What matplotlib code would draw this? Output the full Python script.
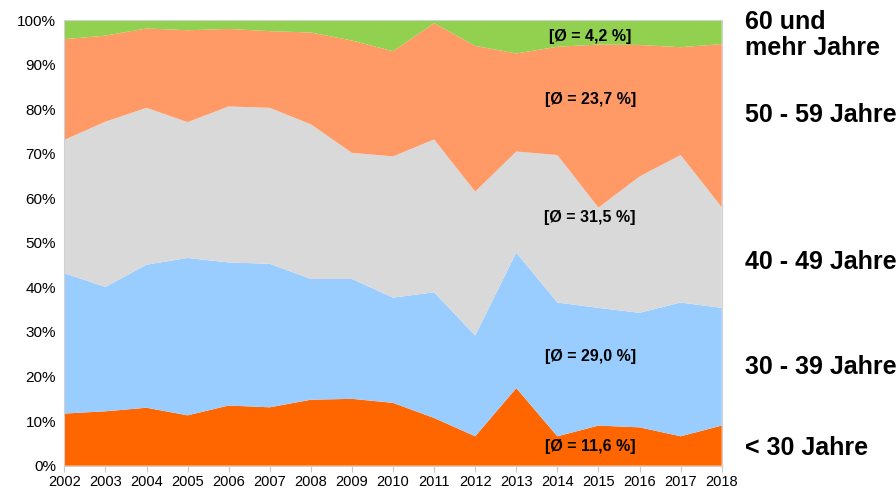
import matplotlib
matplotlib.use("Agg")
import matplotlib.pyplot as plt
import numpy as np

plt.rcParams['font.family'] = ['Liberation Sans', 'DejaVu Sans']

years = list(range(2002, 2019))
# shares in percent per age group
under30 = [11.7, 12.2, 13.0, 11.3, 13.5, 13.1, 14.8, 15.0, 14.1, 10.7, 6.6, 17.4, 6.6, 9.0, 8.6, 6.6, 9.0]
cum_30_39 = [43.2, 40.1, 45.1, 46.6, 45.6, 45.3, 41.9, 41.9, 37.7, 38.9, 29.2, 47.8, 36.6, 35.4, 34.3, 36.6, 35.4]
cum_40_49 = [73.1, 77.2, 80.3, 77.1, 80.6, 80.3, 76.6, 70.2, 69.4, 73.2, 61.5, 70.5, 69.7, 57.9, 64.9, 69.7, 58.0]
cum_50_59 = [95.7, 96.5, 98.1, 97.7, 98.0, 97.5, 97.2, 95.4, 93.0, 99.3, 94.2, 92.5, 94.0, 94.5, 94.4, 93.9, 94.6]

s30 = list(np.array(under30))
s3039 = list(np.array(cum_30_39) - np.array(under30))
s4049 = list(np.array(cum_40_49) - np.array(cum_30_39))
s5059 = list(np.array(cum_50_59) - np.array(cum_40_49))
s60 = list(100 - np.array(cum_50_59))

colors = ['#FF6600', '#99CCFF', '#D9D9D9', '#FF9966', '#92D050']
group_labels = ['< 30 Jahre', '30 - 39 Jahre', '40 - 49 Jahre', '50 - 59 Jahre', '60 und\nmehr Jahre']
avg_labels = ['[Ø = 11,6 %]', '[Ø = 29,0 %]', '[Ø = 31,5 %]', '[Ø = 23,7 %]', '[Ø = 4,2 %]']
avg_y = [4.3, 24.5, 55.6, 82.1, 96.3]

fig = plt.figure(figsize=(8.96, 4.93), dpi=100)
ax = fig.add_axes([0.0718, 0.0554, 0.8055 - 0.0718, 0.9594 - 0.0554])
ax.stackplot(years, s30, s3039, s4049, s5059, s60, colors=colors, linewidth=0)

ax.set_xlim(2002, 2018)
ax.set_ylim(0, 100)
ax.set_xticks(years)
ax.set_xticklabels([str(y) for y in years], fontsize=10.5)
ax.set_yticks(range(0, 101, 10))
ax.set_yticklabels([f'{v}%' for v in range(0, 101, 10)], fontsize=11)
for sp in ax.spines.values():
    sp.set_color('#D0D0D0')
    sp.set_linewidth(0.8)
ax.tick_params(axis='x', length=4, color='#C8C8C8', pad=3)
ax.tick_params(axis='y', length=0, pad=6)

for txt, yv in zip(avg_labels, avg_y):
    ax.text(2014.8, yv, txt, ha='center', va='center', fontsize=11.5, fontweight='bold')

right_y = [448, 367, 262, 115, 35]
for txt, py in zip(group_labels, right_y):
    fig.text(745 / 896, 1 - py / 493, txt, ha='left', va='center', fontsize=18,
             fontweight='bold', linespacing=1.15)

fig.savefig('out.png', dpi=100)
